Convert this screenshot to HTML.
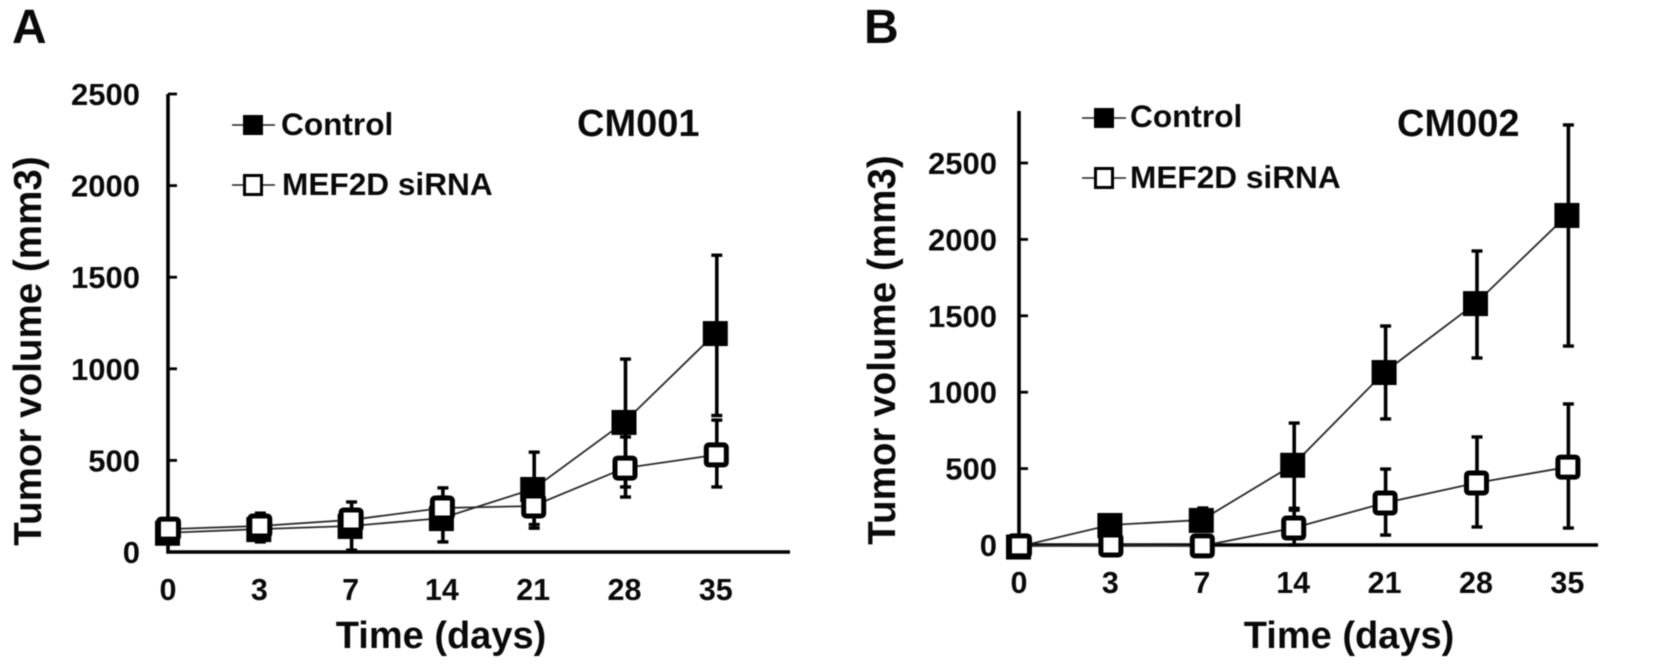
<!DOCTYPE html>
<html lang="en">
<head>
<meta charset="utf-8">
<title>Tumor volume charts CM001 and CM002</title>
<style>
html,body{margin:0;padding:0;background:#fff;width:1654px;height:665px;overflow:hidden}
svg{display:block;filter:blur(0.55px)}
text{font-family:"Liberation Sans",Arial,sans-serif;font-weight:bold;fill:#0a0a0a}
</style>
</head>
<body>
<svg id="figure" xmlns="http://www.w3.org/2000/svg" width="1654" height="665" viewBox="0 0 1654 665">
  <rect width="1654" height="665" fill="#fff"/>
  <text x="12" y="43" font-size="48">A</text>
  <text x="864" y="43" font-size="48">B</text>
  <text x="577" y="136" font-size="38">CM001</text>
  <text x="1397" y="136" font-size="38">CM002</text>
  <text transform="translate(41,351) rotate(-90)" text-anchor="middle" font-size="38.6">Tumor volume (mm3)</text>
  <text transform="translate(895,350) rotate(-90)" text-anchor="middle" font-size="38.6">Tumor volume (mm3)</text>
  <text x="441" y="648" text-anchor="middle" font-size="38">Time (days)</text>
  <text x="1349" y="648" text-anchor="middle" font-size="38">Time (days)</text>

  <g>
    <line x1="232" x2="275" y1="125" y2="125" stroke="#222" stroke-width="1.6"/>
    <rect x="243" y="115" width="20" height="20" fill="#000"/>
    <text x="281" y="135" font-size="31.6">Control</text>
    <line x1="232" x2="275" y1="185" y2="185" stroke="#222" stroke-width="1.6"/>
    <rect x="244.5" y="175.5" width="17" height="19" fill="#fff" stroke="#000" stroke-width="3"/>
    <text x="282" y="195" font-size="31.6">MEF2D siRNA</text>
  </g>
  <g>
    <line x1="1082" x2="1126" y1="118" y2="118" stroke="#222" stroke-width="1.6"/>
    <rect x="1094" y="108" width="20" height="20" fill="#000"/>
    <text x="1130" y="127" font-size="31.6">Control</text>
    <line x1="1082" x2="1126" y1="178" y2="178" stroke="#222" stroke-width="1.6"/>
    <rect x="1095.5" y="168.5" width="17" height="19" fill="#fff" stroke="#000" stroke-width="3"/>
    <text x="1130" y="188" font-size="31.6">MEF2D siRNA</text>
  </g>
</svg>
<script>
var categories = ["0", "3", "7", "14", "21", "28", "35"];
var yTickValues = [0, 500, 1000, 1500, 2000, 2500];

var controlA = [105, 125, 142, 185, 344, 710, 1195];
var controlAUpper = [150, 212, 273, 350, 545, 1053, 1620];
var controlALower = [60, 55, 10, 55, 150, 355, 745];
var mefA = [125, 142, 175, 240, 251, 458, 530];
var mefAUpper = [170, 190, 230, 300, 370, 628, 720];
var mefALower = [80, 95, 120, 180, 130, 300, 355];

var controlB = [-10, 131, 164, 525, 1132, 1583, 2160];
var controlBUpper = [0, 180, 242, 798, 1433, 1924, 2749];
var controlBLower = [0, 80, 90, 240, 825, 1224, 1302];
var mefB = [-6, 0, -6, 111, 275, 406, 510];
var mefBUpper = [0, 20, 20, 228, 497, 707, 923];
var mefBLower = [0, 0, 0, 0, 65, 118, 111];

var svg = document.getElementById('figure');
var NS = 'http://www.w3.org/2000/svg';

function make(tag, attrs, parent) {
  var el = document.createElementNS(NS, tag);
  for (var k in attrs) { el.setAttribute(k, attrs[k]); }
  parent.appendChild(el);
  return el;
}

function drawSeries(parent, x, y, values, upper, lower, seriesName) {
  var group = make('g', {}, parent);
  
  
  var pts = values.map(function (v, i) { return x(i) + ',' + y(v); }).join(' ');
  var line = make('polyline', { points: pts, fill: 'none', stroke: '#2a2a2a', 'stroke-width': 1.8 }, group);
  
  
  values.forEach(function (v, i) {
    var cx = x(i) + 1;
    if (upper[i] !== lower[i]) {
      var bar = make('line', { x1: cx, x2: cx, y1: y(upper[i]), y2: y(lower[i]), stroke: '#000', 'stroke-width': 3.6 }, group);
      
      
      [upper[i], lower[i]].forEach(function (e) {
        var cap = make('line', { x1: cx - 5.5, x2: cx + 5.5, y1: y(e), y2: y(e), stroke: '#000', 'stroke-width': 3.4 }, group);
        
        
      });
    }
  });
  return group;
}

function drawMarkers(group, x, y, values, filled, seriesName) {
  values.forEach(function (v, i) {
    var m;
    if (filled) {
      m = make('rect', { x: x(i) - 13, y: y(v) - 12, width: 25, height: 25, fill: '#000' }, group);
    } else {
      m = make('rect', { x: x(i) - 9.5, y: y(v) - 10, width: 20, height: 20, rx: 2.5, fill: '#fff', stroke: '#000', 'stroke-width': 5 }, group);
    }
    
    
  });
}

function drawPanel(cfg) {
  var panel = make('g', {}, svg);
  
  
  var x = function (i) { return cfg.x0 + i * cfg.dx; };
  var y = function (v) { return cfg.y0 - (v / 2500) * cfg.h; };

  var yAxis = make('line', { x1: cfg.x0, x2: cfg.x0, y1: cfg.top, y2: cfg.y0 + 1.5, stroke: '#000', 'stroke-width': 3.6 }, panel);
  
  
  var xAxis = make('line', { x1: cfg.x0 - 1.5, x2: cfg.right, y1: cfg.y0, y2: cfg.y0, stroke: '#000', 'stroke-width': 3.6 }, panel);
  
  

  yTickValues.forEach(function (v) {
    if (v > 0) {
      var t = make('line', { x1: cfg.x0, x2: cfg.x0 + 9, y1: y(v), y2: y(v), stroke: '#000', 'stroke-width': 2.8 }, panel);
      
      
    }
    var lab = make('text', { x: cfg.labelRight, y: y(v) + 11, 'text-anchor': 'end', 'font-size': 31 }, panel);
    
    
    lab.textContent = String(v);
  });

  categories.forEach(function (c, i) {
    var lab = make('text', { x: x(i), y: cfg.xLabelY, 'text-anchor': 'middle', 'font-size': 30.5 }, panel);
    
    
    lab.textContent = c;
  });

  var g1 = drawSeries(panel, x, y, cfg.control, cfg.controlUpper, cfg.controlLower, 'control');
  var g2 = drawSeries(panel, x, y, cfg.mef, cfg.mefUpper, cfg.mefLower, 'mef2d-sirna');
  drawMarkers(g1, x, y, cfg.control, true, 'control');
  drawMarkers(g2, x, y, cfg.mef, false, 'mef2d-sirna');
}

drawPanel({
  name: 'panel-a', x0: 168, dx: 91.3, y0: 552, h: 458, top: 94, right: 790,
  labelRight: 140, xLabelY: 600,
  control: controlA, controlUpper: controlAUpper, controlLower: controlALower,
  mef: mefA, mefUpper: mefAUpper, mefLower: mefALower
});
drawPanel({
  name: 'panel-b', x0: 1019, dx: 91.4, y0: 545, h: 382, top: 111, right: 1598,
  labelRight: 997, xLabelY: 593,
  control: controlB, controlUpper: controlBUpper, controlLower: controlBLower,
  mef: mefB, mefUpper: mefBUpper, mefLower: mefBLower
});
</script>
</body>
</html>
